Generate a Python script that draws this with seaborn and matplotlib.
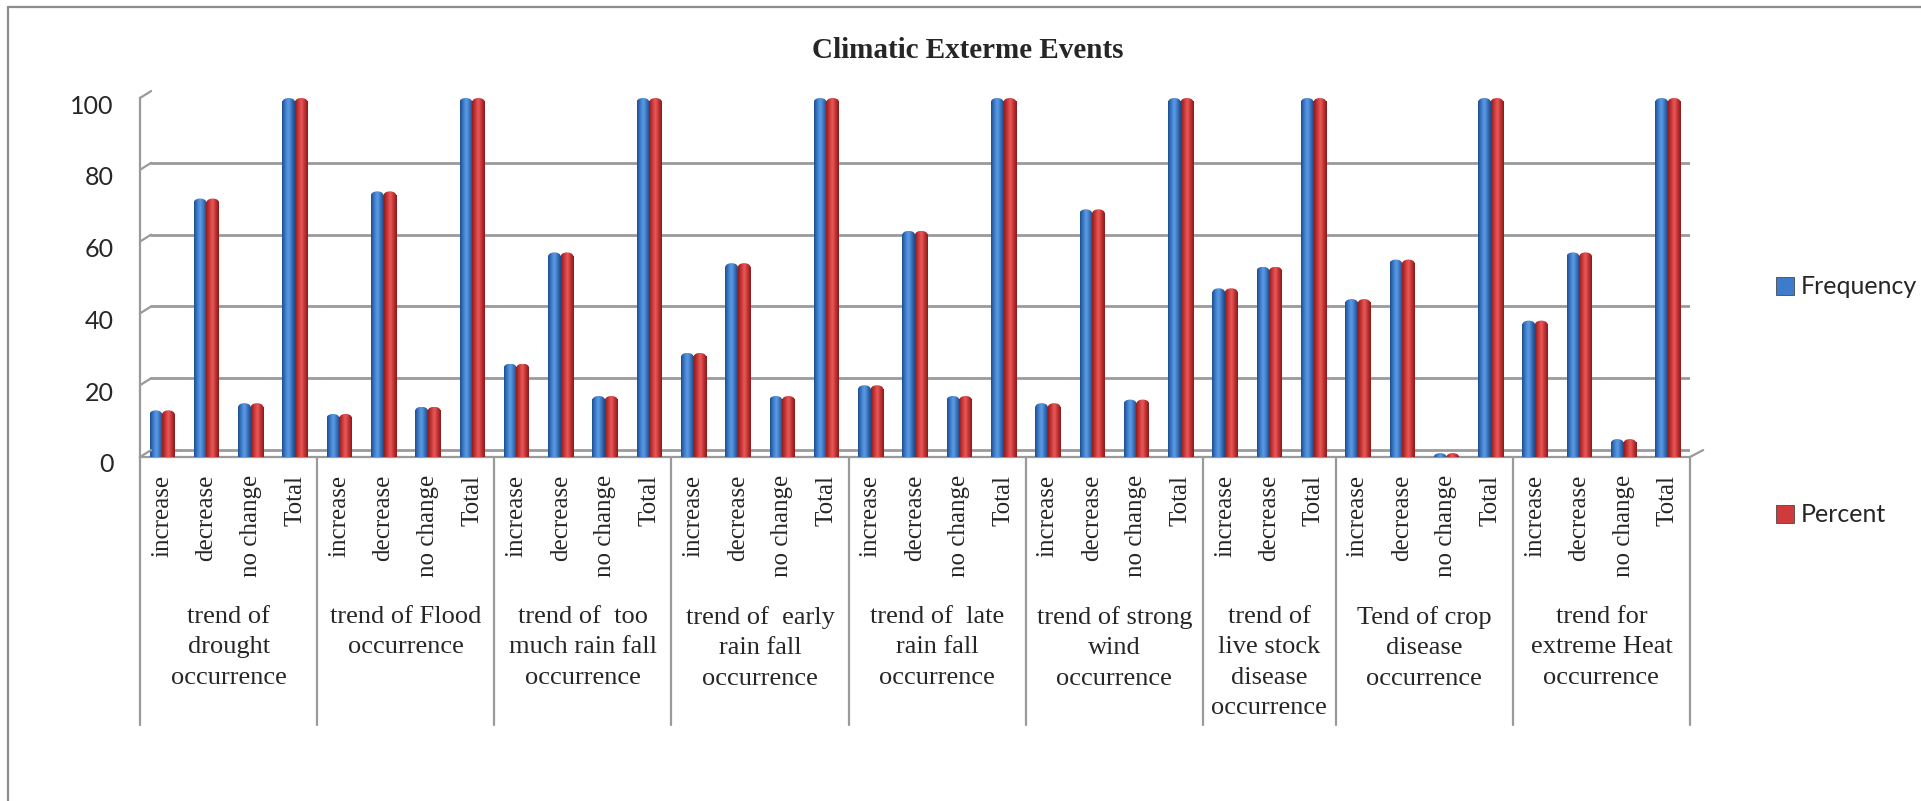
import numpy as np
import pandas as pd
import matplotlib
matplotlib.use("Agg")
import matplotlib.pyplot as plt
import matplotlib.transforms as mtransforms
from matplotlib.colors import LinearSegmentedColormap
from matplotlib.patches import Ellipse, Patch
from matplotlib.lines import Line2D
import seaborn as sns

# group labels (shown in the table under the axis)
groups = [
    "trend of\ndrought\noccurrence",
    "trend of Flood\noccurrence",
    "trend of  too\nmuch rain fall\noccurrence",
    "trend of  early\nrain fall\noccurrence",
    "trend of  late\nrain fall\noccurrence",
    "trend of strong\nwind\noccurrence",
    "trend of\nlive stock\ndisease\noccurrence",
    "Tend of crop\ndisease\noccurrence",
    "trend for\nextreme Heat\noccurrence",
]
four = ["increase", "decrease", "no change", "Total"]
subcats = [four, four, four, four, four, four,
           ["increase", "decrease", "Total"], four, four]

frequency = [13, 72, 15, 100,
             12, 74, 14, 100,
             26, 57, 17, 100,
             29, 54, 17, 100,
             20, 63, 17, 100,
             15, 69, 16, 100,
             47, 53, 100,
             44, 55, 1, 100,
             38, 57, 5, 100]
percent = [13, 72, 15, 100,
           12, 74, 14, 100,
           26, 57, 17, 100,
           29, 54, 17, 100,
           20, 63, 17, 100,
           15, 69, 16, 100,
           47, 53, 100,
           44, 55, 1, 100,
           38, 57, 5, 100]

series = ["Frequency", "Percent"]
colors = {"Frequency": "#3D7CCB", "Percent": "#D03A3A"}

# flat table for seaborn
sub_labels = [s for g in subcats for s in g]
keys = ["%02d" % i for i in range(len(sub_labels))]
df = pd.DataFrame({
    "key": keys * 2,
    "value": frequency + percent,
    "series": ["Frequency"] * len(keys) + ["Percent"] * len(keys),
})

sns.set_style("white")
plt.rcParams["font.family"] = ["Lato", "DejaVu Sans"]

fig = plt.figure(figsize=(19.21, 8.01), dpi=100)
ax = fig.add_axes([140 / 1921, 1 - 457 / 801, 1550 / 1921, 359 / 801])

sns.barplot(data=df, x="key", y="value", hue="series", order=keys,
            hue_order=series, palette=colors, width=0.57, saturation=1,
            legend=False, ax=ax, zorder=3)

# cylinder-ish shading
grad = np.linspace(0, 1, 64).reshape(1, -1)
cmaps = {
    "Frequency": LinearSegmentedColormap.from_list(
        "b", ["#1E4C8A", "#3B7AC9", "#5E9DE6", "#3A73BE", "#1D4780"]),
    "Percent": LinearSegmentedColormap.from_list(
        "r", ["#8C1E1E", "#C93636", "#EA5A5A", "#C23232", "#861B1B"]),
}
cap = 2.2
for name, cont in zip(series, ax.containers):
    for p in cont.patches:
        x0, w, h = p.get_x(), p.get_width(), p.get_height()
        p.set_visible(False)
        top = max(h - cap / 2, 0)
        ax.imshow(grad, extent=(x0, x0 + w, 0, top), aspect="auto",
                  cmap=cmaps[name], interpolation="bicubic", zorder=3)
        ell = Ellipse((x0 + w / 2, top), w, cap, facecolor="none",
                      edgecolor="none")
        ax.add_patch(ell)
        im = ax.imshow(grad, extent=(x0, x0 + w, top - cap / 2, top + cap / 2),
                       aspect="auto", cmap=cmaps[name],
                       interpolation="bicubic", zorder=4)
        im.set_clip_path(ell)

n = len(keys)
ax.set_xlim(-0.5, n - 0.5)
ax.set_ylim(0, 100)
ax.set_yticks([0, 20, 40, 60, 80, 100])
ax.tick_params(axis="y", length=0, pad=19, labelsize=18)
ax.set_xticks(range(n))
ax.set_xticklabels(sub_labels, rotation=90, fontsize=18,
                   fontfamily="Liberation Serif")
ax.tick_params(axis="x", length=0, pad=13)
ax.set_xlabel("")
ax.set_ylabel("")
down = mtransforms.ScaledTranslation(0, -6 / 100, fig.dpi_scale_trans)
for lab in ax.get_yticklabels():
    lab.set_transform(lab.get_transform() + down)

grey = "#9A9A9A"
for s in ["top", "right"]:
    ax.spines[s].set_visible(False)
for s in ["left", "bottom"]:
    ax.spines[s].set_color(grey)
    ax.spines[s].set_linewidth(1.6)

# back wall gridlines, shifted like the 3D chart
back = mtransforms.ScaledTranslation(11 / 100, 7 / 100, fig.dpi_scale_trans)
for v in ax.get_yticks():
    ln = ax.axhline(v, color=grey, lw=2, zorder=1)
    ln.set_transform(ln.get_transform() + back)
    ax.annotate("", xy=(-0.5, v), xytext=(8, 5), textcoords="offset points",
                arrowprops=dict(arrowstyle="-", color=grey, lw=1.6,
                                shrinkA=0, shrinkB=0), annotation_clip=False)
ax.annotate("", xy=(n - 0.5, 0), xytext=(9.5, 5), textcoords="offset points",
            arrowprops=dict(arrowstyle="-", color=grey, lw=1.6,
                            shrinkA=0, shrinkB=0), annotation_clip=False)

# category table below the axis
trans = mtransforms.blended_transform_factory(ax.transData, ax.transAxes)
bounds = np.cumsum([0] + [len(g) for g in subcats])
for b in bounds:
    ax.plot([b - 0.5, b - 0.5], [0, -0.7465], transform=trans, color=grey,
            lw=1.6, clip_on=False)
for g, a, b in zip(groups, bounds[:-1], bounds[1:]):
    ax.text((a + b - 1) / 2, -0.415, g, transform=trans, ha="center",
            va="top", fontsize=19, fontfamily="Liberation Serif",
            linespacing=1.5)

ax.set_title("Climatic Exterme Events", fontsize=21, fontweight="bold",
             fontfamily="Liberation Serif", pad=0,
             x=828 / 1550, y=1 + 40 / 359)

handles = [Patch(facecolor=colors[s], edgecolor="#333333", lw=0.5)
           for s in series]
fig.legend(handles, series, loc="center left",
           bbox_to_anchor=(1776 / 1921, 1 - 401 / 801), frameon=False,
           fontsize=18, labelspacing=8.2, handlelength=0.7,
           handleheight=0.75, handletextpad=0.3, borderpad=0,
           borderaxespad=0)

# outer chart frame (left and top edges visible)
fig.add_artist(Line2D([8 / 1921, 8 / 1921], [0, 1 - 7 / 801],
                      transform=fig.transFigure, color="#8C8C8C", lw=1.6))
fig.add_artist(Line2D([8 / 1921, 1], [1 - 7 / 801, 1 - 7 / 801],
                      transform=fig.transFigure, color="#8C8C8C", lw=1.6))

fig.savefig("out.png", dpi=100)
